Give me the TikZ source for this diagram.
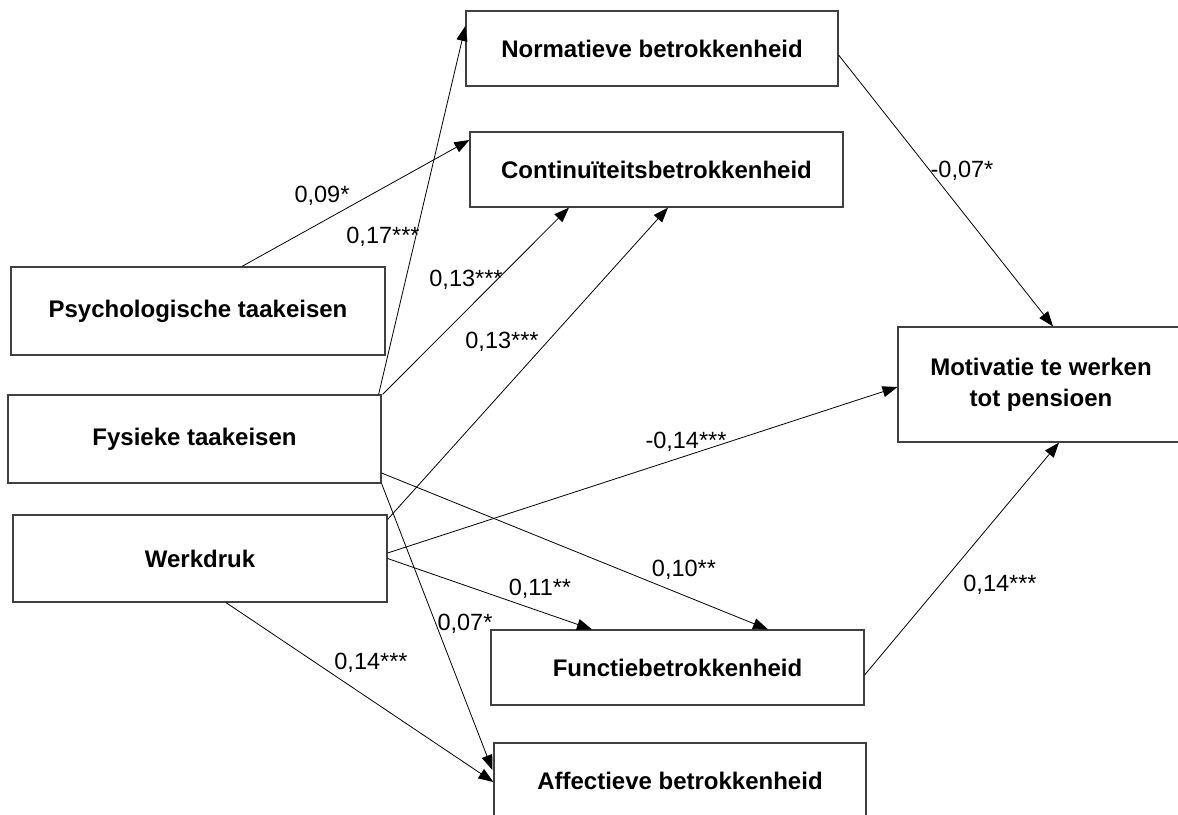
\documentclass[tikz,border=0pt]{standalone}
\usepackage{fontspec}
\setmainfont{Liberation Sans}
\usetikzlibrary{arrows.meta,calc}
\begin{document}
\begin{tikzpicture}[x=1pt,y=-1pt,
  box/.style={draw=black!75,line width=1.2pt,fill=white,align=center,inner sep=0pt,
    font=\bfseries\fontsize{24}{31}\selectfont},
  conn/.style={line width=0.8pt,-{Triangle[length=15pt,width=11pt]}},
  lbl/.style={inner sep=0pt,text height=16.8pt,text depth=0pt,font=\fontsize{23.5}{27}\selectfont}]
\useasboundingbox (0,0) rectangle (1178,814);
% boxes
\node[box,minimum width=372pt,minimum height=75pt] (norm) at (652,48.5) {Normatieve betrokkenheid};
\node[box,minimum width=373pt,minimum height=75pt] (cont) at (656.5,169.5) {Continuïteitsbetrokkenheid};
\node[box,minimum width=374pt,minimum height=88pt] (psych) at (198,311) {Psychologische taakeisen};
\node[box,minimum width=373pt,minimum height=88pt] (fys) at (194.5,439) {Fysieke taakeisen};
\node[box,minimum width=374pt,minimum height=87pt] (werk) at (200,558.5) {Werkdruk};
\node[box,minimum width=286pt,minimum height=115pt] (motiv) at (1041,384.5) {Motivatie te werken\\tot pensioen};
\node[box,minimum width=373pt,minimum height=75pt] (funct) at (677.5,667.5) {Functiebetrokkenheid};
\node[box,minimum width=372pt,minimum height=75pt] (aff) at (680,780.5) {Affectieve betrokkenheid};
% connectors
\draw[conn] ($(psych.north)+(44,0)$) -- ($(cont.west)+(0,-29.5)$);
\draw[conn] ($(fys.north east)+(-3,0)$) -- ($(norm.west)+(0,-22.5)$);
\draw[conn] ($(fys.north east)+(1,0)$) -- ($(cont.south)+(-87.5,0)$);
\draw[conn] ($(werk.north east)+(0,5)$) -- ($(cont.south)+(11.5,0)$);
\draw[conn] ($(norm.east)+(0,6.5)$) -- ($(motiv.north)+(12,0)$);
\draw[conn] ($(werk.east)+(0,-5.5)$) -- ($(motiv.west)+(0,2.5)$);
\draw[conn] ($(fys.east)+(0,34)$) -- ($(funct.north)+(90.5,0)$);
\draw[conn] (werk.east) -- ($(funct.north)+(-85.5,0)$);
\draw[conn] (fys.south east) -- ($(aff.west)+(-1,-10.5)$);
\draw[conn] ($(werk.south)+(26,0)$) -- ($(aff.west)+(0,1.5)$);
\draw[conn] ($(funct.east)+(0,7.5)$) -- ($(motiv.south)+(18,0)$);
% labels
\node[lbl] (l1) at (322,194) {0,09*};
\node[lbl] (l2) at (383,235) {0,17***};
\node[lbl] (l3) at (466,278) {0,13***};
\node[lbl] (l4) at (502,340) {0,13***};
\node[lbl] (l5) at (962,169) {-0,07*};
\node[lbl] (l6) at (686,440) {-0,14***};
\node[lbl] (l7) at (540,587) {0,11**};
\node[lbl] (l8) at (684,568) {0,10**};
\node[lbl] (l9) at (1000,583) {0,14***};
\node[lbl] (l10) at (465,622) {0,07*};
\node[lbl] (l11) at (371,661) {0,14***};
\end{tikzpicture}
\end{document}
